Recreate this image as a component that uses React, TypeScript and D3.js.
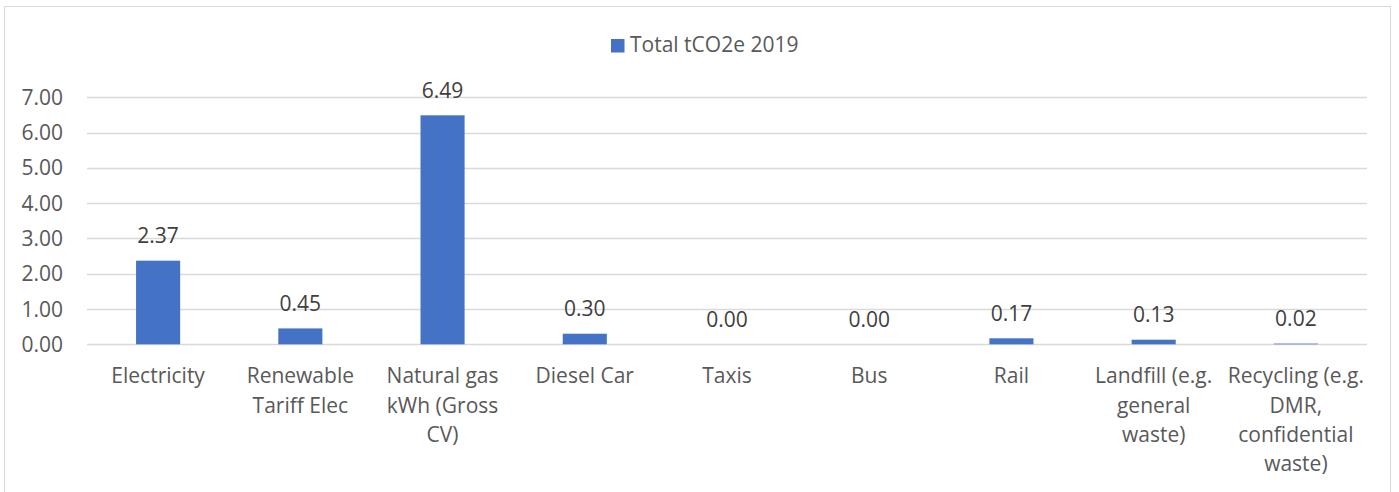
import React from "react";
import * as d3 from "d3";

const categories: string[] = [
  "Electricity",
  "Renewable\nTariff Elec",
  "Natural gas\nkWh (Gross\nCV)",
  "Diesel Car",
  "Taxis",
  "Bus",
  "Rail",
  "Landfill (e.g.\ngeneral\nwaste)",
  "Recycling (e.g.\nDMR,\nconfidential\nwaste)",
];
const values: number[] = [2.37, 0.45, 6.49, 0.3, 0.0, 0.0, 0.17, 0.13, 0.02];
const yTicks: number[] = [0, 1, 2, 3, 4, 5, 6, 7];
const seriesName = "Total tCO2e 2019";

const W = 1399;
const H = 492;
const FONT = "'Open Sans', sans-serif";
const FS = 21;

export default function App() {
  const x = d3
    .scaleBand<string>()
    .domain(categories)
    .range([87, 1367])
    .paddingInner(0.69)
    .paddingOuter(0.345);
  const y = d3.scaleLinear().domain([0, 7]).range([344.3, 97.3]);
  const fmt = d3.format(".2f");

  return (
    <svg
      width={W}
      height={H}
      style={{ position: "absolute", left: 0, top: 0, background: "#fff" }}
      fontFamily={FONT}
    >
      <rect x={0} y={0} width={W} height={H} fill="#fff" />
      <rect
        x={4.5}
        y={6.5}
        width={1386}
        height={520}
        fill="none"
        stroke="#d9d9d9"
        strokeWidth={1}
      />
      {/* gridlines */}
      {yTicks.map((t) => (
        <line
          key={"g" + t}
          x1={87}
          x2={1367}
          y1={Math.round(y(t)) + 0.5}
          y2={Math.round(y(t)) + 0.5}
          stroke="#d9d9d9"
          strokeWidth={1.3}
        />
      ))}
      {/* y tick labels */}
      {yTicks.map((t) => (
        <text
          key={"t" + t}
          x={63}
          y={y(t) + 7.5}
          textAnchor="end"
          fontSize={FS}
          fill="#595959"
        >
          {fmt(t)}
        </text>
      ))}
      {/* bars */}
      {categories.map((c, i) => (
        <rect
          key={"b" + i}
          x={x(c)}
          y={y(values[i])}
          width={x.bandwidth()}
          height={Math.max(0, y(0) - y(values[i]))}
          fill="#4472C4"
        />
      ))}
      {/* data labels */}
      {categories.map((c, i) => (
        <text
          key={"d" + i}
          x={(x(c) as number) + x.bandwidth() / 2}
          y={y(values[i]) - 17.5}
          textAnchor="middle"
          fontSize={FS}
          fill="#404040"
        >
          {fmt(values[i])}
        </text>
      ))}
      {/* category labels */}
      {categories.map((c, i) => (
        <text
          key={"c" + i}
          x={(x(c) as number) + x.bandwidth() / 2}
          y={383.3}
          textAnchor="middle"
          fontSize={FS}
          fill="#595959"
        >
          {c.split("\n").map((ln, j) => (
            <tspan key={j} x={(x(c) as number) + x.bandwidth() / 2} dy={j === 0 ? 0 : 29.2}>
              {ln}
            </tspan>
          ))}
        </text>
      ))}
      {/* legend */}
      <rect x={611} y={39} width={13.5} height={13.5} fill="#4472C4" />
      <text x={630} y={52} fontSize={FS} fill="#595959">
        {seriesName}
      </text>
    </svg>
  );
}
